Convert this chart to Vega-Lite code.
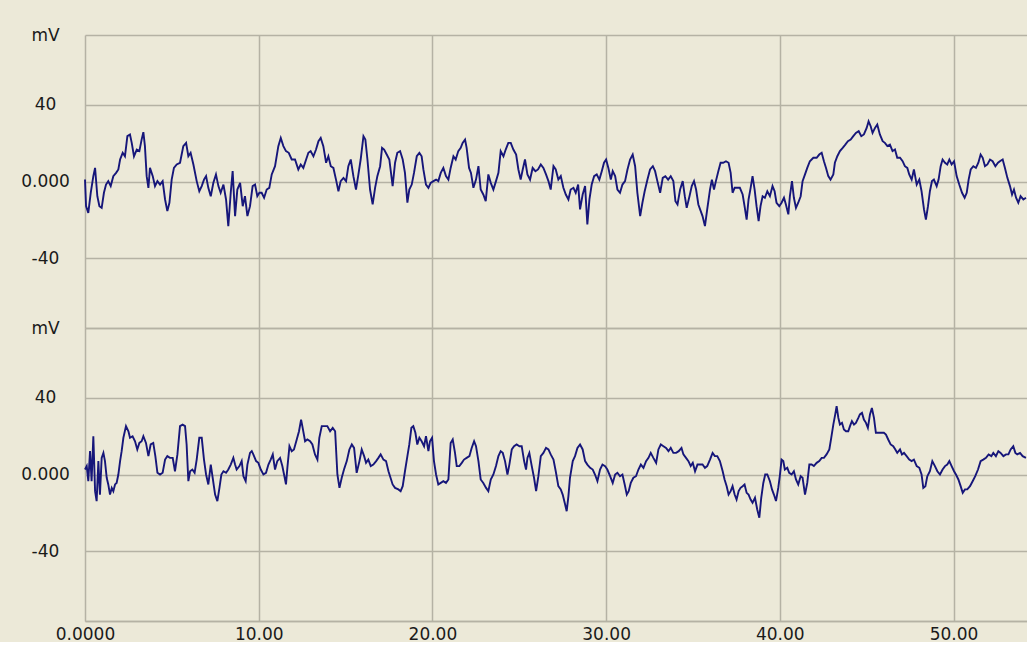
{
  "$schema": "https://vega.github.io/schema/vega-lite/v6.json",
  "background": "#ECE9D8",
  "padding": {"left": 20, "top": 26, "right": 0, "bottom": 0},
  "spacing": 0,
  "bounds": "flush",
  "config": {
    "view": {"stroke": null},
    "font": "DejaVu Sans",
    "axis": {
      "labelFont": "DejaVu Sans",
      "labelFontSize": 17,
      "labelColor": "#1a1a1a",
      "gridColor": "#b5b2a4",
      "gridWidth": 1.5,
      "gridOpacity": 1,
      "ticks": false,
      "tickSize": 0,
      "domain": false,
      "title": null
    }
  },
  "datasets": {
    "a": [
      {"t":0,"v":1.0},{"t":0.06,"v":-12.9},{"t":0.19,"v":-16.4},{"t":0.33,"v":-5.9},{"t":0.48,"v":2.8},{"t":0.58,"v":7.1},{"t":0.71,"v":-7.7},{"t":0.83,"v":-12.9},{"t":0.96,"v":-13.8},{"t":1.09,"v":-5.9},{"t":1.21,"v":-1.6},{"t":1.34,"v":0.2},{"t":1.48,"v":-2.4},{"t":1.63,"v":2.8},{"t":1.79,"v":4.5},{"t":1.92,"v":6.3},{"t":2.02,"v":11.5},{"t":2.17,"v":15.0},{"t":2.30,"v":13.2},{"t":2.44,"v":23.7},{"t":2.59,"v":24.6},{"t":2.69,"v":20.2},{"t":2.82,"v":13.2},{"t":2.98,"v":16.7},{"t":3.13,"v":15.9},{"t":3.26,"v":21.9},{"t":3.36,"v":25.8},{"t":3.45,"v":18.5},{"t":3.55,"v":2.8},{"t":3.65,"v":-3.3},{"t":3.74,"v":7.1},{"t":3.90,"v":2.8},{"t":4.03,"v":-2.4},{"t":4.17,"v":0.2},{"t":4.32,"v":-1.6},{"t":4.47,"v":0.2},{"t":4.61,"v":-9.4},{"t":4.74,"v":-15.5},{"t":4.86,"v":-11.1},{"t":4.99,"v":1.0},{"t":5.12,"v":7.1},{"t":5.28,"v":8.9},{"t":5.47,"v":9.8},{"t":5.66,"v":18.5},{"t":5.82,"v":20.2},{"t":5.95,"v":13.2},{"t":6.08,"v":15.0},{"t":6.24,"v":8.9},{"t":6.43,"v":0.2},{"t":6.58,"v":-5.1},{"t":6.72,"v":-2.4},{"t":6.85,"v":1.0},{"t":6.97,"v":2.8},{"t":7.10,"v":-3.3},{"t":7.24,"v":-7.7},{"t":7.39,"v":-0.7},{"t":7.54,"v":3.7},{"t":7.68,"v":-2.4},{"t":7.81,"v":-5.9},{"t":7.97,"v":-1.6},{"t":8.12,"v":-9.4},{"t":8.25,"v":-23.3},{"t":8.39,"v":-5.9},{"t":8.50,"v":5.4},{"t":8.64,"v":-18.1},{"t":8.77,"v":-4.2},{"t":8.93,"v":-0.7},{"t":9.08,"v":-12.9},{"t":9.21,"v":-7.7},{"t":9.35,"v":-18.1},{"t":9.50,"v":-12.9},{"t":9.65,"v":-2.4},{"t":9.79,"v":-1.6},{"t":9.92,"v":-7.7},{"t":10.04,"v":-5.9},{"t":10.17,"v":-5.9},{"t":10.31,"v":-8.5},{"t":10.46,"v":-4.2},{"t":10.61,"v":-3.3},{"t":10.75,"v":3.7},{"t":10.94,"v":8.0},{"t":11.13,"v":18.5},{"t":11.27,"v":22.8},{"t":11.42,"v":18.5},{"t":11.57,"v":15.9},{"t":11.73,"v":15.0},{"t":11.90,"v":11.5},{"t":12.09,"v":11.5},{"t":12.28,"v":6.3},{"t":12.42,"v":8.9},{"t":12.57,"v":7.1},{"t":12.73,"v":11.5},{"t":12.86,"v":15.0},{"t":12.99,"v":15.9},{"t":13.15,"v":13.2},{"t":13.30,"v":16.7},{"t":13.44,"v":21.1},{"t":13.57,"v":22.8},{"t":13.72,"v":18.5},{"t":13.88,"v":9.8},{"t":14.01,"v":13.2},{"t":14.15,"v":8.0},{"t":14.30,"v":7.1},{"t":14.45,"v":1.0},{"t":14.59,"v":-5.1},{"t":14.72,"v":0.2},{"t":14.88,"v":1.9},{"t":15.03,"v":0.2},{"t":15.16,"v":8.0},{"t":15.30,"v":11.5},{"t":15.45,"v":2.8},{"t":15.60,"v":-4.2},{"t":15.74,"v":3.7},{"t":15.87,"v":11.5},{"t":16.03,"v":23.7},{"t":16.14,"v":21.9},{"t":16.26,"v":11.5},{"t":16.41,"v":-4.2},{"t":16.56,"v":-12.0},{"t":16.70,"v":-3.3},{"t":16.83,"v":2.8},{"t":16.99,"v":8.0},{"t":17.10,"v":17.6},{"t":17.22,"v":16.7},{"t":17.37,"v":14.1},{"t":17.52,"v":11.5},
      {"t":17.71,"v":-2.4},{"t":17.85,"v":9.8},{"t":17.98,"v":15.0},{"t":18.14,"v":15.9},{"t":18.29,"v":11.5},{"t":18.42,"v":4.5},{"t":18.56,"v":-11.1},{"t":18.67,"v":-4.2},{"t":18.81,"v":-1.6},{"t":18.94,"v":4.5},{"t":19.10,"v":13.2},{"t":19.25,"v":15.0},{"t":19.38,"v":13.2},{"t":19.48,"v":6.3},{"t":19.63,"v":-1.6},{"t":19.77,"v":-3.3},{"t":19.90,"v":-0.7},{"t":20.06,"v":0.2},{"t":20.21,"v":1.0},{"t":20.34,"v":0.2},{"t":20.48,"v":4.5},{"t":20.63,"v":7.1},{"t":20.78,"v":2.8},{"t":20.92,"v":1.0},{"t":21.05,"v":7.1},{"t":21.21,"v":13.2},{"t":21.34,"v":11.5},{"t":21.49,"v":15.9},{"t":21.63,"v":17.6},{"t":21.74,"v":20.2},{"t":21.88,"v":21.9},{"t":21.97,"v":17.6},{"t":22.11,"v":7.1},{"t":22.22,"v":4.5},{"t":22.36,"v":-3.3},{"t":22.51,"v":1.0},{"t":22.65,"v":8.0},{"t":22.78,"v":-4.2},{"t":22.93,"v":-6.8},{"t":23.07,"v":-10.3},{"t":23.22,"v":3.7},{"t":23.36,"v":-0.7},{"t":23.51,"v":-4.2},{"t":23.66,"v":0.2},{"t":23.80,"v":4.5},{"t":23.93,"v":15.9},{"t":24.09,"v":13.2},{"t":24.22,"v":16.7},{"t":24.37,"v":20.2},{"t":24.51,"v":20.2},{"t":24.66,"v":16.7},{"t":24.82,"v":14.1},{"t":24.95,"v":6.3},{"t":25.08,"v":1.0},{"t":25.20,"v":6.3},{"t":25.33,"v":11.5},{"t":25.47,"v":3.7},{"t":25.62,"v":1.0},{"t":25.77,"v":7.1},{"t":25.93,"v":5.4},{"t":26.08,"v":6.3},{"t":26.24,"v":8.9},{"t":26.39,"v":7.1},{"t":26.54,"v":3.7},{"t":26.68,"v":0.2},{"t":26.81,"v":-4.2},{"t":26.97,"v":8.0},{"t":27.10,"v":6.3},{"t":27.25,"v":1.0},{"t":27.39,"v":2.8},{"t":27.54,"v":-3.3},{"t":27.68,"v":-6.8},{"t":27.83,"v":-9.4},{"t":27.96,"v":-4.2},{"t":28.12,"v":-3.3},{"t":28.25,"v":-5.9},{"t":28.39,"v":-1.6},{"t":28.50,"v":-14.6},{"t":28.65,"v":-6.8},{"t":28.79,"v":-2.4},{"t":28.92,"v":-22.5},{"t":29.04,"v":-9.4},{"t":29.17,"v":-1.6},{"t":29.31,"v":2.8},{"t":29.46,"v":3.7},{"t":29.61,"v":1.0},{"t":29.75,"v":5.4},{"t":29.88,"v":9.8},{"t":30.00,"v":11.5},{"t":30.13,"v":7.1},{"t":30.27,"v":1.0},{"t":30.38,"v":5.4},{"t":30.52,"v":2.8},{"t":30.65,"v":-4.2},{"t":30.80,"v":-5.9},{"t":30.94,"v":-1.6},{"t":31.09,"v":0.2},{"t":31.23,"v":6.3},{"t":31.38,"v":11.5},{"t":31.53,"v":14.1},{"t":31.67,"v":8.0},{"t":31.80,"v":-5.9},{"t":31.96,"v":-18.1},{"t":32.09,"v":-11.1},{"t":32.22,"v":-5.1},{"t":32.38,"v":1.0},{"t":32.53,"v":6.3},{"t":32.69,"v":8.0},{"t":32.82,"v":5.4},{"t":32.95,"v":0.2},{"t":33.11,"v":-5.9},{"t":33.26,"v":1.9},{"t":33.41,"v":2.8},{"t":33.57,"v":1.0},{"t":33.72,"v":2.8},{"t":33.87,"v":0.2},{"t":33.99,"v":-10.3},{"t":34.11,"v":-12.0},{"t":34.26,"v":-4.2},{"t":34.41,"v":0.2},{"t":34.53,"v":-7.7},{"t":34.64,"v":-13.8},{"t":34.80,"v":-7.7},{"t":34.93,"v":-2.4},{"t":35.06,"v":0.2},{"t":35.18,"v":-4.2},{"t":35.31,"v":-12.0},
      {"t":35.55,"v":-18.1},{"t":35.69,"v":-23.3},{"t":35.82,"v":-14.6},{"t":35.98,"v":-4.2},{"t":36.09,"v":1.0},{"t":36.21,"v":-4.2},{"t":36.32,"v":0.2},{"t":36.46,"v":5.4},{"t":36.59,"v":9.8},{"t":36.74,"v":9.8},{"t":36.90,"v":10.6},{"t":37.05,"v":9.8},{"t":37.17,"v":4.5},{"t":37.28,"v":-5.9},{"t":37.40,"v":-3.3},{"t":37.55,"v":-3.3},{"t":37.70,"v":-3.3},{"t":37.86,"v":-6.8},{"t":37.97,"v":-12.9},{"t":38.09,"v":-19.9},{"t":38.20,"v":-9.4},{"t":38.32,"v":-3.3},{"t":38.43,"v":2.8},{"t":38.55,"v":-4.2},{"t":38.66,"v":-12.9},{"t":38.78,"v":-20.7},{"t":38.89,"v":-12.9},{"t":39.01,"v":-7.7},{"t":39.14,"v":-8.5},{"t":39.28,"v":-5.1},{"t":39.43,"v":-7.7},{"t":39.58,"v":-2.4},{"t":39.70,"v":-5.1},{"t":39.81,"v":-11.1},{"t":39.97,"v":-12.9},{"t":40.10,"v":-11.1},{"t":40.24,"v":-8.5},{"t":40.35,"v":-12.0},{"t":40.49,"v":-17.2},{"t":40.58,"v":-7.7},{"t":40.70,"v":0.2},{"t":40.81,"v":-8.5},{"t":40.93,"v":-13.8},{"t":41.06,"v":-11.1},{"t":41.20,"v":-7.7},{"t":41.31,"v":0.2},{"t":41.45,"v":3.7},{"t":41.58,"v":7.1},{"t":41.73,"v":10.6},{"t":41.93,"v":12.4},{"t":42.12,"v":12.4},{"t":42.27,"v":14.1},{"t":42.41,"v":15.0},{"t":42.54,"v":10.6},{"t":42.66,"v":7.1},{"t":42.79,"v":2.8},{"t":42.92,"v":1.0},{"t":43.08,"v":3.7},{"t":43.17,"v":9.8},{"t":43.31,"v":13.2},{"t":43.46,"v":15.9},{"t":43.62,"v":17.6},{"t":43.77,"v":19.3},{"t":43.92,"v":21.1},{"t":44.08,"v":21.9},{"t":44.23,"v":23.7},{"t":44.38,"v":25.4},{"t":44.54,"v":26.3},{"t":44.69,"v":23.7},{"t":44.84,"v":24.6},{"t":45.00,"v":28.0},{"t":45.11,"v":31.5},{"t":45.23,"v":28.9},{"t":45.34,"v":25.4},{"t":45.48,"v":28.0},{"t":45.61,"v":29.8},{"t":45.76,"v":24.6},{"t":45.92,"v":21.1},{"t":46.05,"v":20.2},{"t":46.19,"v":18.5},{"t":46.34,"v":19.3},{"t":46.49,"v":15.9},{"t":46.63,"v":16.7},{"t":46.76,"v":12.4},{"t":46.92,"v":12.4},{"t":47.07,"v":10.6},{"t":47.20,"v":8.0},{"t":47.34,"v":7.1},{"t":47.45,"v":3.7},{"t":47.59,"v":1.0},{"t":47.72,"v":6.3},{"t":47.88,"v":-1.6},{"t":48.03,"v":1.0},{"t":48.16,"v":-5.1},{"t":48.30,"v":-14.6},{"t":48.41,"v":-19.9},{"t":48.53,"v":-12.9},{"t":48.64,"v":-5.1},{"t":48.76,"v":0.2},{"t":48.87,"v":1.0},{"t":49.03,"v":-2.4},{"t":49.14,"v":1.0},{"t":49.26,"v":8.0},{"t":49.37,"v":11.5},{"t":49.51,"v":9.8},{"t":49.64,"v":8.9},{"t":49.76,"v":11.5},{"t":49.89,"v":8.9},{"t":50.03,"v":10.6},{"t":50.18,"v":2.8},{"t":50.33,"v":-1.6},{"t":50.49,"v":-5.9},{"t":50.64,"v":-8.5},{"t":50.76,"v":-5.9},{"t":50.87,"v":1.0},{"t":50.99,"v":6.3},{"t":51.14,"v":8.0},{"t":51.29,"v":7.1},{"t":51.43,"v":9.8},{"t":51.56,"v":14.1},{"t":51.68,"v":12.4},{"t":51.81,"v":8.0},{"t":51.95,"v":8.9},{"t":52.10,"v":11.5},{"t":52.25,"v":10.6},{"t":52.41,"v":8.0},{"t":52.56,"v":9.8},{"t":52.67,"v":10.6},{"t":52.83,"v":11.5},{"t":52.96,"v":7.1},{"t":53.10,"v":1.9},{"t":53.25,"v":-2.4},{"t":53.37,"v":-6.8},{"t":53.48,"v":-4.2},{"t":53.60,"v":-8.5},{"t":53.73,"v":-11.1},{"t":53.86,"v":-7.7},{"t":54.02,"v":-9.4},{"t":54.17,"v":-8.5}
    ],
    "b": [
      {"t":0,"v":2.6},{"t":0.10,"v":4.4},{"t":0.19,"v":-3.5},{"t":0.29,"v":12.2},{"t":0.38,"v":-3.5},{"t":0.48,"v":20.0},{"t":0.58,"v":-8.7},{"t":0.67,"v":-13.9},{"t":0.77,"v":7.0},{"t":0.86,"v":-10.5},{"t":0.96,"v":8.7},{"t":1.06,"v":11.3},{"t":1.15,"v":7.0},{"t":1.25,"v":-1.7},{"t":1.34,"v":-5.2},{"t":1.44,"v":-10.5},{"t":1.54,"v":-7.0},{"t":1.63,"v":-8.7},{"t":1.73,"v":-5.2},{"t":1.82,"v":-4.4},{"t":1.92,"v":0},{"t":2.02,"v":7.0},{"t":2.11,"v":12.2},{"t":2.21,"v":19.2},{"t":2.36,"v":25.3},{"t":2.50,"v":22.6},{"t":2.59,"v":19.2},{"t":2.74,"v":20.0},{"t":2.88,"v":17.4},{"t":3.01,"v":13.1},{"t":3.13,"v":16.5},{"t":3.26,"v":17.4},{"t":3.36,"v":20.0},{"t":3.51,"v":16.5},{"t":3.65,"v":9.6},{"t":3.78,"v":15.7},{"t":3.93,"v":16.5},{"t":4.05,"v":9.6},{"t":4.17,"v":0.9},{"t":4.32,"v":0},{"t":4.47,"v":0.9},{"t":4.61,"v":7.8},{"t":4.74,"v":9.6},{"t":4.89,"v":8.7},{"t":5.05,"v":8.7},{"t":5.18,"v":1.7},{"t":5.32,"v":10.5},{"t":5.47,"v":25.3},{"t":5.62,"v":26.1},{"t":5.76,"v":25.3},{"t":5.85,"v":15.7},{"t":5.95,"v":-3.5},{"t":6.05,"v":1.7},{"t":6.18,"v":2.6},{"t":6.31,"v":0.9},{"t":6.43,"v":7.8},{"t":6.58,"v":19.2},{"t":6.72,"v":19.2},{"t":6.85,"v":7.8},{"t":6.97,"v":0},{"t":7.10,"v":-5.2},{"t":7.24,"v":5.2},{"t":7.35,"v":-1.7},{"t":7.49,"v":-10.5},{"t":7.62,"v":-13.9},{"t":7.74,"v":-7.0},{"t":7.85,"v":0},{"t":7.97,"v":1.7},{"t":8.12,"v":0.9},{"t":8.25,"v":2.6},{"t":8.39,"v":5.2},{"t":8.54,"v":8.7},{"t":8.64,"v":5.2},{"t":8.73,"v":2.6},{"t":8.89,"v":4.4},{"t":9.02,"v":7.0},{"t":9.12,"v":-0.9},{"t":9.25,"v":-3.5},{"t":9.35,"v":5.2},{"t":9.50,"v":11.3},{"t":9.60,"v":12.2},{"t":9.69,"v":10.5},{"t":9.85,"v":7.0},{"t":9.98,"v":6.1},{"t":10.12,"v":2.6},{"t":10.27,"v":0},{"t":10.42,"v":0.9},{"t":10.56,"v":5.2},{"t":10.69,"v":7.8},{"t":10.81,"v":10.5},{"t":10.94,"v":2.6},{"t":11.07,"v":7.0},{"t":11.23,"v":8.7},{"t":11.36,"v":4.4},{"t":11.48,"v":-0.9},{"t":11.57,"v":-5.2},{"t":11.65,"v":3.5},{"t":11.77,"v":14.8},{"t":11.90,"v":12.2},{"t":12.03,"v":13.1},{"t":12.19,"v":18.3},{"t":12.32,"v":22.6},{"t":12.44,"v":28.7},{"t":12.53,"v":24.4},{"t":12.67,"v":17.4},{"t":12.80,"v":18.3},{"t":12.96,"v":17.4},{"t":13.09,"v":15.7},{"t":13.24,"v":10.5},{"t":13.38,"v":7.8},{"t":13.49,"v":19.2},{"t":13.63,"v":25.3},{"t":13.78,"v":25.3},{"t":13.95,"v":25.3},{"t":14.11,"v":22.6},{"t":14.26,"v":24.4},{"t":14.40,"v":22.6},{"t":14.53,"v":0},{"t":14.65,"v":-7.0},{"t":14.78,"v":-1.7},{"t":14.91,"v":2.6},{"t":15.07,"v":7.0},{"t":15.22,"v":13.1},{"t":15.36,"v":15.7},{"t":15.49,"v":13.9},{"t":15.64,"v":0.9},{"t":15.80,"v":7.0},{"t":15.93,"v":13.1},{"t":16.07,"v":9.6},{"t":16.18,"v":6.1},{"t":16.31,"v":7.8},{"t":16.45,"v":4.4},{"t":16.60,"v":5.2},{"t":16.76,"v":7.0},{"t":16.89,"v":8.7},{"t":17.02,"v":10.5},{"t":17.18,"v":7.8},{"t":17.33,"v":7.0},{"t":17.47,"v":1.7},
      {"t":17.71,"v":-5.2},{"t":17.85,"v":-7.0},{"t":18.04,"v":-7.8},{"t":18.17,"v":-8.7},{"t":18.29,"v":-6.1},{"t":18.42,"v":1.7},{"t":18.56,"v":9.6},{"t":18.67,"v":15.7},{"t":18.79,"v":24.4},{"t":18.90,"v":25.3},{"t":19.02,"v":21.8},{"t":19.13,"v":15.7},{"t":19.25,"v":19.2},{"t":19.38,"v":17.4},{"t":19.52,"v":14.8},{"t":19.63,"v":20.0},{"t":19.77,"v":12.2},{"t":19.86,"v":17.4},{"t":19.98,"v":19.2},{"t":20.09,"v":7.0},{"t":20.21,"v":0},{"t":20.34,"v":-5.2},{"t":20.48,"v":-4.4},{"t":20.63,"v":-3.5},{"t":20.78,"v":-4.4},{"t":20.92,"v":-2.6},{"t":21.05,"v":16.5},{"t":21.17,"v":18.3},{"t":21.30,"v":11.3},{"t":21.40,"v":4.4},{"t":21.55,"v":4.4},{"t":21.69,"v":6.1},{"t":21.82,"v":7.8},{"t":21.97,"v":8.7},{"t":22.13,"v":9.6},{"t":22.26,"v":13.9},{"t":22.40,"v":17.4},{"t":22.51,"v":14.8},{"t":22.65,"v":7.0},{"t":22.78,"v":-2.6},{"t":22.93,"v":-4.4},{"t":23.09,"v":-7.0},{"t":23.22,"v":-8.7},{"t":23.36,"v":-2.6},{"t":23.51,"v":0},{"t":23.66,"v":4.4},{"t":23.80,"v":9.6},{"t":23.93,"v":12.2},{"t":24.05,"v":11.3},{"t":24.18,"v":7.0},{"t":24.32,"v":0},{"t":24.43,"v":5.2},{"t":24.57,"v":13.1},{"t":24.70,"v":14.8},{"t":24.85,"v":15.7},{"t":25.01,"v":14.8},{"t":25.14,"v":14.8},{"t":25.28,"v":7.0},{"t":25.39,"v":2.6},{"t":25.47,"v":8.7},{"t":25.58,"v":11.3},{"t":25.72,"v":4.4},{"t":25.85,"v":-1.7},{"t":25.97,"v":-8.7},{"t":26.10,"v":-0.9},{"t":26.24,"v":9.6},{"t":26.39,"v":11.3},{"t":26.54,"v":13.9},{"t":26.68,"v":13.1},{"t":26.81,"v":10.5},{"t":26.97,"v":7.8},{"t":27.10,"v":1.7},{"t":27.25,"v":-6.1},{"t":27.39,"v":-7.8},{"t":27.50,"v":-10.5},{"t":27.64,"v":-15.7},{"t":27.73,"v":-19.2},{"t":27.83,"v":-11.3},{"t":27.92,"v":-1.7},{"t":28.08,"v":7.0},{"t":28.21,"v":9.6},{"t":28.35,"v":13.9},{"t":28.50,"v":15.7},{"t":28.65,"v":13.1},{"t":28.79,"v":7.0},{"t":28.92,"v":5.2},{"t":29.08,"v":3.5},{"t":29.23,"v":2.6},{"t":29.36,"v":0},{"t":29.50,"v":-3.5},{"t":29.65,"v":2.6},{"t":29.79,"v":5.2},{"t":29.94,"v":4.4},{"t":30.07,"v":2.6},{"t":30.23,"v":-0.9},{"t":30.38,"v":-4.4},{"t":30.52,"v":0},{"t":30.65,"v":0.9},{"t":30.80,"v":-0.9},{"t":30.94,"v":0},{"t":31.07,"v":-5.2},{"t":31.19,"v":-10.5},{"t":31.30,"v":-8.7},{"t":31.42,"v":-4.4},{"t":31.57,"v":-1.7},{"t":31.72,"v":-0.9},{"t":31.86,"v":2.6},{"t":32.00,"v":5.2},{"t":32.15,"v":3.5},{"t":32.30,"v":7.0},{"t":32.44,"v":8.7},{"t":32.57,"v":11.3},{"t":32.72,"v":8.7},{"t":32.88,"v":6.1},{"t":33.01,"v":13.1},{"t":33.15,"v":15.7},{"t":33.30,"v":14.8},{"t":33.45,"v":13.9},{"t":33.59,"v":12.2},{"t":33.72,"v":13.9},{"t":33.87,"v":11.3},{"t":34.03,"v":11.3},{"t":34.18,"v":12.2},{"t":34.34,"v":13.9},{"t":34.45,"v":10.5},{"t":34.60,"v":8.7},{"t":34.74,"v":7.0},{"t":34.87,"v":4.4},{"t":34.99,"v":6.1},{"t":35.12,"v":1.7},{"t":35.26,"v":5.2},
      {"t":35.55,"v":5.2},{"t":35.69,"v":3.5},{"t":35.82,"v":4.4},{"t":35.98,"v":7.8},{"t":36.13,"v":11.3},{"t":36.26,"v":9.6},{"t":36.40,"v":9.6},{"t":36.55,"v":7.0},{"t":36.71,"v":1.7},{"t":36.82,"v":-2.6},{"t":36.94,"v":-6.1},{"t":37.05,"v":-10.5},{"t":37.17,"v":-8.7},{"t":37.28,"v":-6.1},{"t":37.40,"v":-10.5},{"t":37.51,"v":-13.1},{"t":37.63,"v":-8.7},{"t":37.74,"v":-7.0},{"t":37.86,"v":-6.1},{"t":37.97,"v":-5.2},{"t":38.09,"v":-9.6},{"t":38.20,"v":-10.5},{"t":38.32,"v":-13.1},{"t":38.43,"v":-14.8},{"t":38.57,"v":-12.2},{"t":38.70,"v":-18.3},{"t":38.82,"v":-22.6},{"t":38.93,"v":-12.2},{"t":39.05,"v":-4.4},{"t":39.16,"v":0},{"t":39.28,"v":0},{"t":39.43,"v":-3.5},{"t":39.55,"v":-7.8},{"t":39.66,"v":-10.5},{"t":39.78,"v":-13.9},{"t":39.91,"v":-7.0},{"t":40.01,"v":0},{"t":40.10,"v":7.8},{"t":40.20,"v":7.0},{"t":40.29,"v":2.6},{"t":40.43,"v":3.5},{"t":40.54,"v":0.9},{"t":40.68,"v":0},{"t":40.81,"v":1.7},{"t":40.93,"v":-2.6},{"t":41.06,"v":-5.2},{"t":41.20,"v":-0.9},{"t":41.31,"v":-1.7},{"t":41.45,"v":-10.5},{"t":41.58,"v":-4.4},{"t":41.70,"v":5.2},{"t":41.83,"v":5.2},{"t":41.96,"v":4.4},{"t":42.12,"v":6.1},{"t":42.27,"v":7.0},{"t":42.41,"v":8.7},{"t":42.54,"v":8.7},{"t":42.69,"v":10.5},{"t":42.85,"v":13.1},{"t":42.96,"v":19.2},{"t":43.08,"v":26.1},{"t":43.19,"v":31.4},{"t":43.27,"v":35.7},{"t":43.37,"v":29.6},{"t":43.46,"v":26.1},{"t":43.58,"v":27.0},{"t":43.69,"v":23.5},{"t":43.81,"v":22.6},{"t":43.94,"v":22.6},{"t":44.04,"v":25.3},{"t":44.15,"v":27.9},{"t":44.27,"v":26.1},{"t":44.38,"v":27.0},{"t":44.52,"v":29.6},{"t":44.61,"v":31.4},{"t":44.73,"v":32.2},{"t":44.84,"v":28.7},{"t":44.96,"v":27.0},{"t":45.07,"v":24.4},{"t":45.19,"v":31.4},{"t":45.30,"v":34.8},{"t":45.42,"v":29.6},{"t":45.53,"v":21.8},{"t":45.67,"v":21.8},{"t":45.86,"v":21.8},{"t":45.99,"v":21.8},{"t":46.11,"v":20.9},{"t":46.24,"v":18.3},{"t":46.38,"v":15.7},{"t":46.53,"v":14.8},{"t":46.65,"v":13.1},{"t":46.76,"v":11.3},{"t":46.92,"v":13.1},{"t":47.03,"v":10.5},{"t":47.15,"v":11.3},{"t":47.30,"v":9.6},{"t":47.45,"v":7.8},{"t":47.59,"v":7.0},{"t":47.72,"v":7.8},{"t":47.88,"v":4.4},{"t":48.03,"v":3.5},{"t":48.16,"v":0},{"t":48.26,"v":-7.0},{"t":48.38,"v":-6.1},{"t":48.49,"v":-0.9},{"t":48.64,"v":1.7},{"t":48.78,"v":7.0},{"t":48.93,"v":4.4},{"t":49.07,"v":1.7},{"t":49.22,"v":0},{"t":49.37,"v":2.6},{"t":49.51,"v":4.4},{"t":49.64,"v":5.2},{"t":49.76,"v":7.0},{"t":49.89,"v":4.4},{"t":50.03,"v":1.7},{"t":50.14,"v":0},{"t":50.28,"v":-2.6},{"t":50.41,"v":-6.1},{"t":50.53,"v":-9.6},{"t":50.66,"v":-7.8},{"t":50.79,"v":-7.8},{"t":50.95,"v":-6.1},{"t":51.10,"v":-3.5},{"t":51.25,"v":-0.9},{"t":51.41,"v":2.6},{"t":51.56,"v":7.0},{"t":51.71,"v":7.8},{"t":51.87,"v":8.7},{"t":52.02,"v":10.5},{"t":52.18,"v":9.6},{"t":52.29,"v":11.3},{"t":52.44,"v":9.6},{"t":52.58,"v":12.2},{"t":52.71,"v":11.3},{"t":52.87,"v":9.6},{"t":53.02,"v":10.5},{"t":53.16,"v":10.5},{"t":53.29,"v":13.1},{"t":53.44,"v":14.8},{"t":53.56,"v":11.3},{"t":53.67,"v":10.5},{"t":53.83,"v":11.3},{"t":53.98,"v":9.6},{"t":54.17,"v":8.7}
    ]
  },
  "vconcat": [
    {
      "width": 942,
      "height": 293,
      "data": {"name": "a"},
      "mark": {"type": "line", "color": "#16167a", "strokeWidth": 1.9},
      "encoding": {
        "x": {
          "field": "t", "type": "quantitative",
          "scale": {"domain": [0, 54.23], "nice": false, "zero": false},
          "axis": {"values": [0, 10, 20, 30, 40, 50], "labels": false, "grid": true}
        },
        "y": {
          "field": "v", "type": "quantitative",
          "scale": {"domain": [-76.6, 76.6], "nice": false, "zero": false},
          "axis": {
            "values": [-76.6, -40, 0, 40, 76.6],
            "labelAlign": "center",
            "labelBaseline": "middle",
            "labelPadding": 40,
            "labelExpr": "datum.value > 70 ? 'mV' : datum.value < -70 ? '' : datum.value == 0 ? '0.000' : datum.value == -40 ? '-40' : '40'"
          }
        }
      }
    },
    {
      "width": 942,
      "height": 293,
      "data": {"name": "b"},
      "mark": {"type": "line", "color": "#16167a", "strokeWidth": 1.9},
      "encoding": {
        "x": {
          "field": "t", "type": "quantitative",
          "scale": {"domain": [0, 54.23], "nice": false, "zero": false},
          "axis": {
            "values": [0, 10, 20, 30, 40, 50],
            "grid": true,
            "domain": true,
            "domainColor": "#b5b2a4",
            "domainWidth": 1.5,
            "labelFlush": false,
            "labelAlign": "center",
            "labelBaseline": "top",
            "labelPadding": 5,
            "labelExpr": "datum.value == 0 ? '0.0000' : format(datum.value, '.2f')"
          }
        },
        "y": {
          "field": "v", "type": "quantitative",
          "scale": {"domain": [-76.6, 76.6], "nice": false, "zero": false},
          "axis": {
            "values": [-76.6, -40, 0, 40, 76.6],
            "labelAlign": "center",
            "labelBaseline": "middle",
            "labelPadding": 40,
            "labelExpr": "datum.value > 70 ? 'mV' : datum.value < -70 ? '' : datum.value == 0 ? '0.000' : datum.value == -40 ? '-40' : '40'"
          }
        }
      }
    }
  ]
}
